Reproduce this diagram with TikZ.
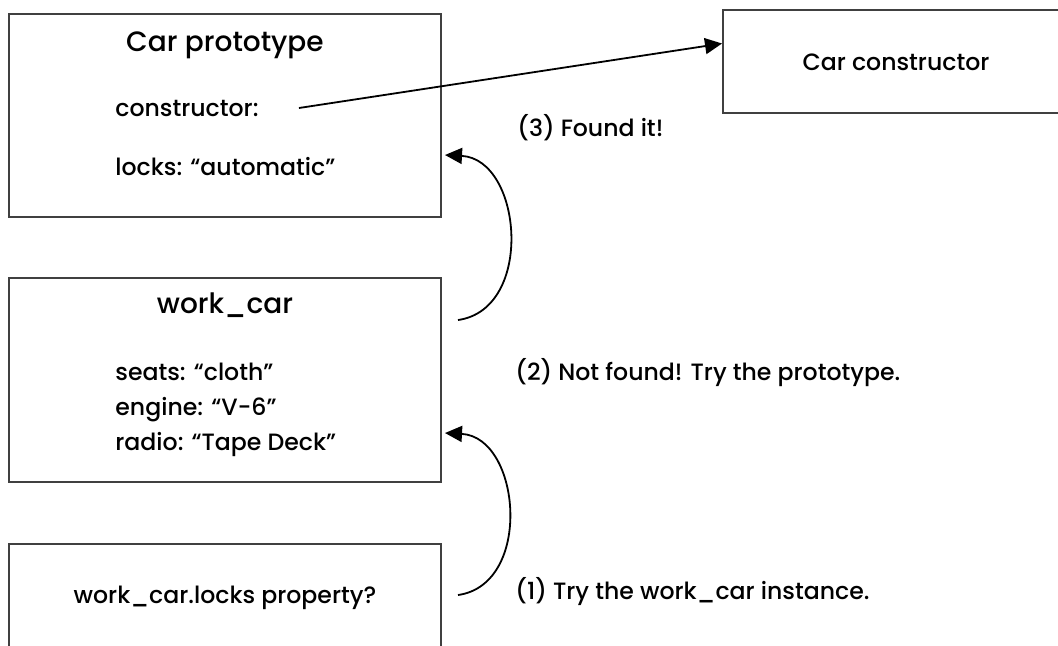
\documentclass[tikz,border=0pt]{standalone}
\usepackage{fontspec}
\setmainfont{Poppins}[UprightFont=* Medium]
\usetikzlibrary{arrows.meta}

\begin{document}
\begin{tikzpicture}[x=0.5pt,y=-0.5pt,
    box/.style={draw=black!75,line width=1pt,inner sep=0pt},
    txt/.style={inner sep=0pt,font=\fontsize{11.8}{14}\selectfont},
    titolo/.style={inner sep=0pt,font=\fontsize{14}{17}\selectfont},
    freccia/.style={line width=0.9pt,-{Triangle[length=8.5pt,width=8pt]}}]
        \clip (0,0) rectangle (1058,645);

        %prototipo
        \node[box,minimum width=216pt,minimum height=101.5pt] (proto) at (225,115.5) {};
        \node[titolo] (protoname) at (225,45) {Car prototype};
        \node[txt,anchor=west] (cons) at (115,108) {constructor:};
        \node[txt,anchor=west] (locks) at (115,167) {locks: “automatic”};

        %costruttore
        \node[box,minimum width=178.5pt,minimum height=51.5pt] (ctor) at (901.5,61.5) {};
        \node[txt] (ctorname) at (896,62) {Car constructor};

        %istanza
        \node[box,minimum width=216pt,minimum height=102pt] (work) at (225,380) {};
        \node[titolo] (workname) at (225,305) {work\_car};
        \node[txt,anchor=west,align=left,font=\fontsize{11.8}{17.5}\selectfont] (props) at (115,410)
            {seats: “cloth”\\engine: “V-6”\\radio: “Tape Deck”};

        %richiesta
        \node[box,minimum width=216pt,minimum height=78pt] (query) at (225,622) {};
        \node[txt] (qtext) at (225,598) {work\_car.locks property?};

        %passi della ricerca
        \node[txt,anchor=west] (step1) at (515,592) {(1) Try the work\_car instance.};
        \node[txt,anchor=west] (step2) at (515,373) {(2) Not found! Try the prototype.};
        \node[txt,anchor=west] (step3) at (517,128) {(3) Found it!};

        \coordinate (from1) at (458,595);
        \coordinate (to1) at (445,433);
        \coordinate (from2) at (458,320);
        \coordinate (to2) at (445,155);
        \draw[freccia] (from1) to[out=8,in=-3,looseness=1.2] (to1);
        \draw[freccia] (from2) to[out=8,in=-3,looseness=1.2] (to2);
        \draw[freccia] ([xshift=20pt]cons.east) -- ([yshift=9pt]ctor.west);
\end{tikzpicture}
\end{document}
